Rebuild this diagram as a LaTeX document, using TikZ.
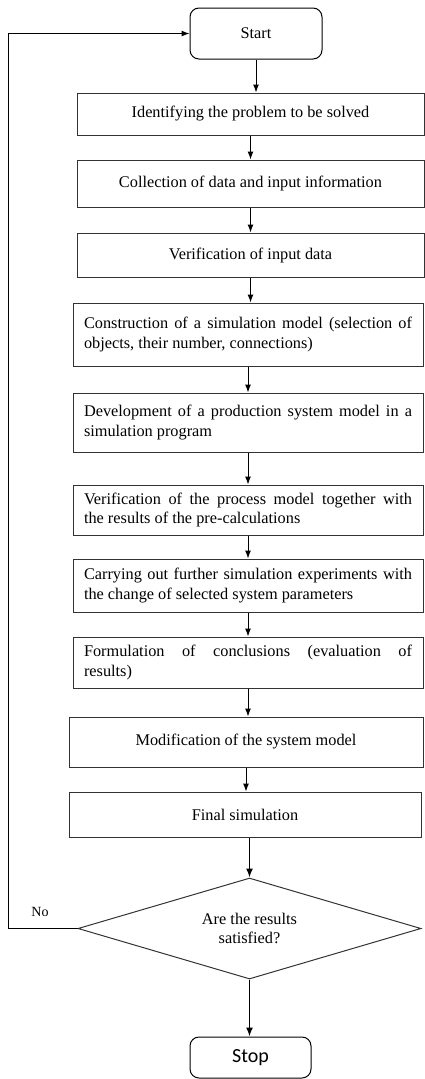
\documentclass[tikz,border=0pt]{standalone}
\usepackage{fontspec}
\setmainfont{Liberation Serif}
\newfontfamily\stopfont{Carlito}
\usetikzlibrary{shapes.geometric,arrows.meta}

\begin{document}
\begin{tikzpicture}[x=1pt,y=-1pt]
    \tikzset{box/.style = {shape=rectangle,draw=black!80,line width=1pt,inner xsep=11pt,font=\fontsize{16.3}{19.5}\selectfont},
             cbox/.style = {box,align=center},
             jbox/.style = {box,text width=328pt,align=justify,minimum width=350pt},
             term/.style = {shape=rectangle,rounded corners=9pt,draw=black,line width=1pt},
             arr/.style = {-{Latex[length=8pt,width=6pt]},line width=1pt},
             thickarr/.style = {-{Latex[length=9pt,width=7pt]},line width=1.5pt}}
    \useasboundingbox (0,0) rectangle (424,1079);

    % Start and Stop
    \node[term,minimum width=132pt,minimum height=51pt,font=\fontsize{16.3}{19.5}\selectfont] (start) at (256,33.5) {Start};
    \node[term,minimum width=121pt,minimum height=41pt,font=\stopfont\fontsize{20}{24}\selectfont] (stop) at (250.5,1057.5) {Stop};

    % Centred boxes
    \foreach \pos/\name/\w/\h/\txt in {{(250.5,114)/b1/347/42/Identifying the problem to be solved},
                                      {(250.5,183.5)/b2/347/47/Collection of data and input information},
                                      {(250.5,255)/b3/347/44/Verification of input data},
                                      {(246,742)/b9/354/50/Modification of the system model},
                                      {(245,814.5)/b10/352/45/Final simulation}}
        \node[cbox,minimum width=\w pt,minimum height=\h pt] (\name) at \pos {\txt};

    % Justified boxes
    \foreach \pos/\name/\h/\txt in {{(248,334.5)/b4/63/{Construction of a simulation model (selection of\linebreak objects, their number, connections)}},
                                   {(248,422.5)/b5/59/{Development of a production system model in a\linebreak simulation program}},
                                   {(248,510)/b6/50/{Verification of the process model together with\linebreak the results of the pre-calculations}},
                                   {(248,585.5)/b7/53/{Carrying out further simulation experiments with\linebreak the change of selected system parameters}},
                                   {(248,662.5)/b8/51/{Formulation of conclusions (evaluation of\linebreak results)}}}
        \node[jbox,minimum height=\h pt] (\name) at \pos {\txt};

    % Decision
    \node[shape=diamond,draw=black!80,line width=1pt,inner sep=0pt,aspect=3.4,minimum width=343pt,minimum height=101pt,
          align=center,font=\fontsize{16.3}{19.5}\selectfont] (dec) at (249.5,928.5) {Are the results\\satisfied?};
    \node[font=\fontsize{14}{16}\selectfont] (nolabel) at (40,912) {No};
    \coordinate (loop) at (8,0);

    % Edges
    \foreach \source/\target in {start/b1, b1/b2, b2/b3, b3/b4, b4/b5, b5/b6, b6/b7, b7/b8, b8/b9, b9/b10}
        \draw[arr] (\source.south) -- (\source.south |- \target.north);
    \draw[thickarr] (dec.north |- b10.south) -- (dec.north);
    \draw[thickarr] (dec.south) -- (dec.south |- stop.north);
    \draw[arr] (dec.west) -- (dec.west -| loop) |- (start.west);
\end{tikzpicture}
\end{document}
